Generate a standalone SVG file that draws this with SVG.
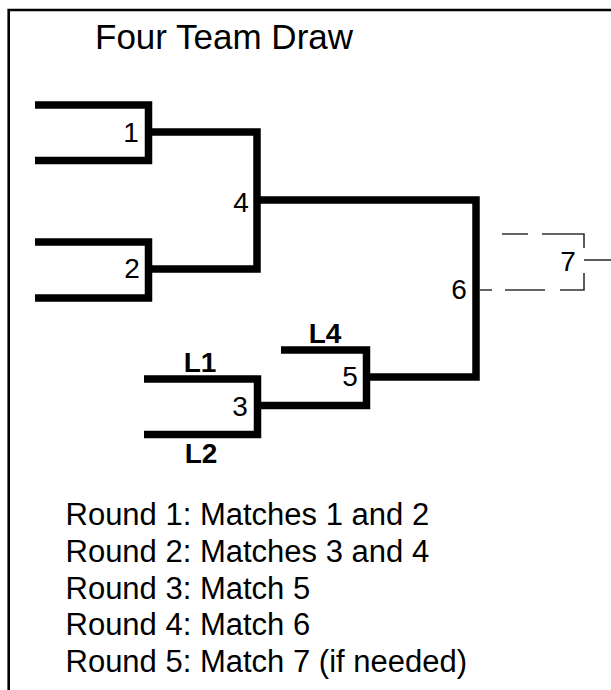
<svg xmlns="http://www.w3.org/2000/svg" width="611" height="690" viewBox="0 0 611 690">
<style>
text{font-family:"Liberation Sans",Arial,sans-serif;fill:#000}
.title{font-size:35px}
.num{font-size:28px;text-anchor:middle}
.lbl{font-size:28px;font-weight:bold;text-anchor:middle}
.round{font-size:31px}
.br{fill:none;stroke:#000;stroke-width:7.5;stroke-linejoin:miter;stroke-linecap:butt}
.thin{fill:none;stroke:#333;stroke-width:1.6}
</style>
<rect width="611" height="690" fill="#fff"/>
<path d="M8.7,690 V10 H611" fill="none" stroke="#000" stroke-width="2.6"/>
<text class="title" x="95" y="49">Four Team Draw</text>
<g id="connectors">
<path class="br" d="M35,105 H148.5 V160.5 H35"/>
<path class="br" d="M35,242 H148.5 V298 H35"/>
<path class="br" d="M148.5,132 H257 V269 H148.5"/>
<path class="br" d="M144,379 H257.5 V434.5 H144"/>
<path class="br" d="M281,350 H366.5 V405.5 H257.5"/>
<path class="br" d="M257,200 H476 V377 H366.5"/>
<path class="thin" d="M502,234 H528 M542,234 H584 V248 M584,273 V290 H560 M545,290 H505 M492,290 H480"/>
<path class="thin" d="M584,260 H611"/>
</g>
<g id="match-1"><text class="num" x="131" y="142">1</text></g>
<g id="match-2"><text class="num" x="132" y="278">2</text></g>
<g id="match-3"><text class="num" x="240" y="416">3</text></g>
<g id="match-4"><text class="num" x="241" y="212">4</text></g>
<g id="match-5"><text class="num" x="350" y="386">5</text></g>
<g id="match-6"><text class="num" x="459" y="299">6</text></g>
<g id="match-7"><text class="num" x="568" y="271">7</text></g>
<g id="loser-L1"><text class="lbl" x="200" y="372">L1</text></g>
<g id="loser-L2"><text class="lbl" x="201" y="463">L2</text></g>
<g id="loser-L4"><text class="lbl" x="325" y="343">L4</text></g>
<g id="legend">
<text class="round" x="65.5" y="525">Round 1: Matches 1 and 2</text>
<text class="round" x="65.5" y="561.75">Round 2: Matches 3 and 4</text>
<text class="round" x="65.5" y="598.5">Round 3: Match 5</text>
<text class="round" x="65.5" y="635.25">Round 4: Match 6</text>
<text class="round" x="65.5" y="672">Round 5: Match 7 (if needed)</text>
</g>
</svg>
